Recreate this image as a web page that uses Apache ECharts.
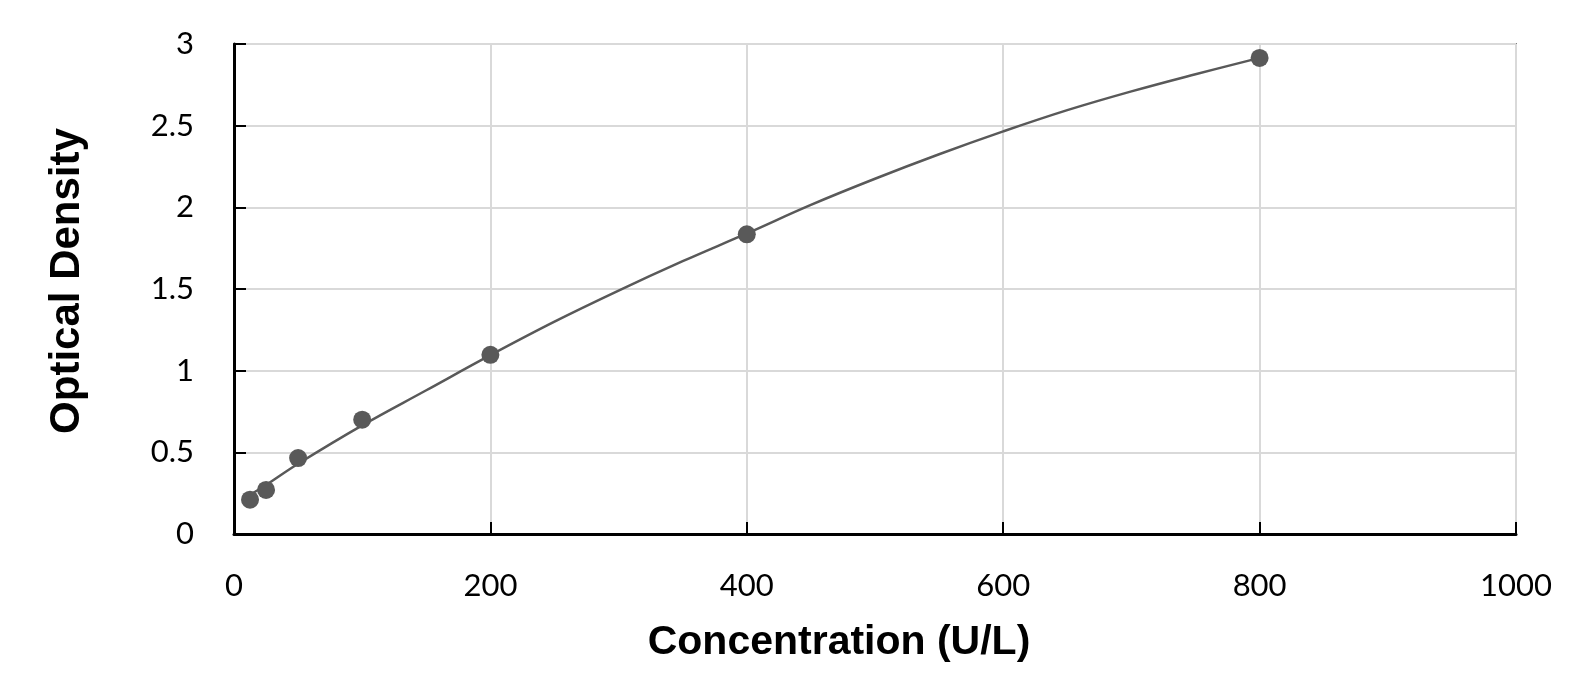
<!DOCTYPE html>
<html lang="en">
<head>
<meta charset="utf-8">
<title>Standard Curve</title>
<script src="https://cdn.jsdelivr.net/npm/echarts@6/dist/echarts.min.js"></script>
<style>
  html, body { margin: 0; padding: 0; background: #fff; }
  #main { width: 1595px; height: 692px; }
</style>
</head>
<body>
<div id="main"></div>
<script type="text/javascript">
// measured standards
var concentrations = [12.5, 25, 50, 100, 200, 400, 800];
var densities = [0.21, 0.27, 0.465, 0.70, 1.097, 1.835, 2.915];

// fitted curve
var curveX = [12.5, 25, 50, 100, 150, 200, 250, 300, 350, 400, 450, 500, 550, 600, 650, 700, 750, 800];
var curveY = [0.24, 0.30, 0.43, 0.665, 0.88, 1.095, 1.30, 1.49, 1.67, 1.84, 2.015, 2.175, 2.325, 2.465, 2.595, 2.71, 2.815, 2.915];

var chart = echarts.init(document.getElementById('main'));

function pairs(xs, ys) {
  var out = [];
  for (var i = 0; i < xs.length; i++) out.push([xs[i], ys[i]]);
  return out;
}

var labelFont = { color: '#000', fontSize: 31, fontFamily: 'Lato' };
var nameFont = { color: '#000', fontWeight: 'bold', fontFamily: 'Liberation Sans' };

var option = {
  animation: false,
  grid: {
    left: 234, right: 79, top: 44, bottom: 158,
    show: true, borderColor: '#7f7f7f', borderWidth: 2
  },
  xAxis: {
    type: 'value', min: 0, max: 1000, interval: 200,
    name: 'Concentration (U/L)',
    nameLocation: 'middle', nameGap: 88,
    nameTextStyle: Object.assign({ fontSize: 41, padding: [0, 72, 0, 0] }, nameFont),
    axisLine: { lineStyle: { color: '#000', width: 3 } },
    axisTick: { inside: true, length: 12, lineStyle: { color: '#000', width: 2 } },
    axisLabel: Object.assign({
      margin: 36,
      formatter: function (v) { return String(v); }
    }, labelFont),
    splitLine: { lineStyle: { color: '#d9d9d9', width: 2 } }
  },
  yAxis: {
    type: 'value', min: 0, max: 3, interval: 0.5,
    name: 'Optical Density',
    nameLocation: 'middle', nameGap: 146, nameRotate: 90,
    nameTextStyle: Object.assign({ fontSize: 42, padding: [0, 0, 0, 16] }, nameFont),
    axisLine: { show: true, lineStyle: { color: '#000', width: 3 } },
    axisTick: { show: true, inside: true, length: 12, lineStyle: { color: '#000', width: 2 } },
    axisLabel: Object.assign({ margin: 40 }, labelFont),
    splitLine: { lineStyle: { color: '#d9d9d9', width: 2 } }
  },
  series: [
    {
      name: 'Fit',
      type: 'line',
      smooth: 0.4,
      showSymbol: false,
      lineStyle: { color: '#595959', width: 2.5 },
      data: pairs(curveX, curveY),
      z: 2
    },
    {
      name: 'Standards',
      type: 'scatter',
      symbolSize: 18,
      itemStyle: { color: '#595959', opacity: 1 },
      data: pairs(concentrations, densities),
      z: 3
    }
  ]
};

chart.setOption(option);
</script>
</body>
</html>
